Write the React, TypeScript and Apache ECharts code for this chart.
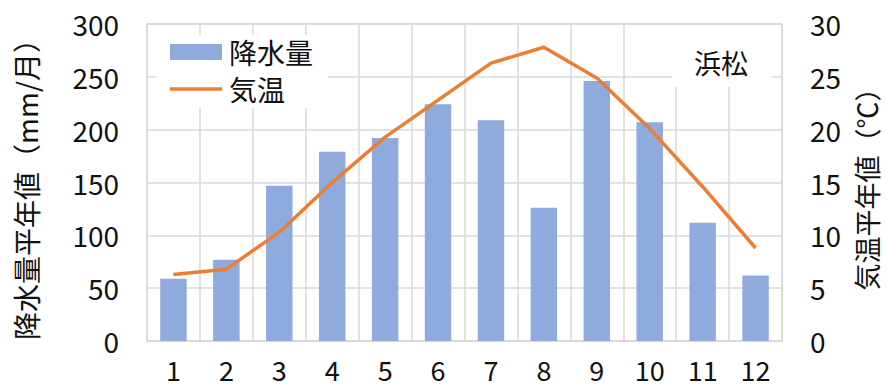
import React, { useEffect, useRef } from "react";
import * as echarts from "echarts";

const months = ["1", "2", "3", "4", "5", "6", "7", "8", "9", "10", "11", "12"];
const precipitation = [59, 77, 147, 179, 192, 224, 209, 126, 246, 207, 112, 62];
const temperature = [6.3, 6.8, 10.3, 15.0, 19.3, 22.8, 26.3, 27.8, 24.9, 20.1, 14.6, 8.8];
const precipTicks = { min: 0, max: 300, interval: 50 };
const tempTicks = { min: 0, max: 30, interval: 5 };

const FONT = '"Noto Sans CJK JP", "Noto Sans", sans-serif';
const GRID = "#d9d9d9";
const TEXT = "#111";
const BAR = "#8faadc";
const LINE = "#ed7d31";

export default function App() {
  const ref = useRef<HTMLDivElement>(null);
  useEffect(() => {
    if (!ref.current) return;
    const chart = echarts.init(ref.current, null, { renderer: "svg" });
    const legendCommon = {
      orient: "horizontal",
      left: 170,
      padding: 0,
      itemWidth: 52,
      itemGap: 8,
      textStyle: { fontSize: 28, color: TEXT, fontFamily: FONT, padding: [0, 0, 0, 2] },
      z: 5,
    };
    chart.setOption({
      animation: false,
      textStyle: { fontFamily: FONT },
      grid: {
        left: 147,
        right: 105,
        top: 24,
        bottom: 48,
        show: true,
        borderColor: GRID,
        borderWidth: 1.5,
        containLabel: false,
        outerBoundsMode: "none",
      },
      legend: [
        {
          ...legendCommon,
          top: 38,
          itemHeight: 16,
          data: [{ name: "降水量", icon: "rect" }],
        },
        {
          ...legendCommon,
          top: 75,
          itemHeight: 3.5,
          data: [{ name: "気温", icon: "rect" }],
        },
      ],
      xAxis: {
        type: "category",
        data: months,
        boundaryGap: true,
        axisLine: { show: true, lineStyle: { color: GRID, width: 1.5 } },
        axisTick: { show: false },
        splitLine: { show: true, lineStyle: { color: GRID, width: 1.5 } },
        axisLabel: { fontSize: 27, lineHeight: 18, color: TEXT, margin: 19, fontFamily: FONT },
      },
      yAxis: [
        {
          type: "value",
          min: precipTicks.min,
          max: precipTicks.max,
          interval: precipTicks.interval,
          axisLine: { show: false },
          axisTick: { show: false },
          splitLine: { show: true, lineStyle: { color: GRID, width: 1.5 } },
          axisLabel: { fontSize: 28, color: TEXT, margin: 28, fontFamily: FONT },
          name: "降水量平年値（mm/月）",
          nameLocation: "middle",
          nameRotate: 90,
          nameGap: 107,
          nameTextStyle: { fontSize: 28, lineHeight: 28, color: TEXT, fontFamily: FONT },
        },
        {
          type: "value",
          min: tempTicks.min,
          max: tempTicks.max,
          interval: tempTicks.interval,
          axisLine: { show: false },
          axisTick: { show: false },
          splitLine: { show: false },
          axisLabel: { fontSize: 28, color: TEXT, margin: 28, fontFamily: FONT },
          name: "気温平年値（℃）",
          nameLocation: "middle",
          nameRotate: 90,
          nameGap: 71,
          nameTextStyle: { fontSize: 27, lineHeight: 27, color: TEXT, fontFamily: FONT },
        },
      ],
      series: [
        {
          name: "降水量",
          type: "bar",
          data: precipitation,
          yAxisIndex: 0,
          barWidth: "50%",
          itemStyle: { color: BAR },
        },
        {
          name: "気温",
          type: "line",
          data: temperature,
          yAxisIndex: 1,
          symbol: "none",
          lineStyle: { color: LINE, width: 3.5 },
          itemStyle: { color: LINE },
        },
      ],
      graphic: [
        {
          type: "rect",
          shape: { x: 157, y: 35, width: 171, height: 73 },
          style: { fill: "#fff" },
          z: 1,
        },
        {
          type: "rect",
          shape: { x: 672, y: 25, width: 99, height: 62 },
          style: { fill: "#fff" },
          z: 10,
        },
        {
          type: "text",
          x: 721,
          y: 62,
          style: {
            text: "浜松",
            fontSize: 27,
            fontFamily: FONT,
            fill: TEXT,
            align: "center",
            verticalAlign: "middle",
          },
          z: 11,
        },
      ],
    });
    return () => chart.dispose();
  }, []);
  return <div ref={ref} style={{ width: 887, height: 389, position: "absolute", left: 0, top: 0 }} />;
}
